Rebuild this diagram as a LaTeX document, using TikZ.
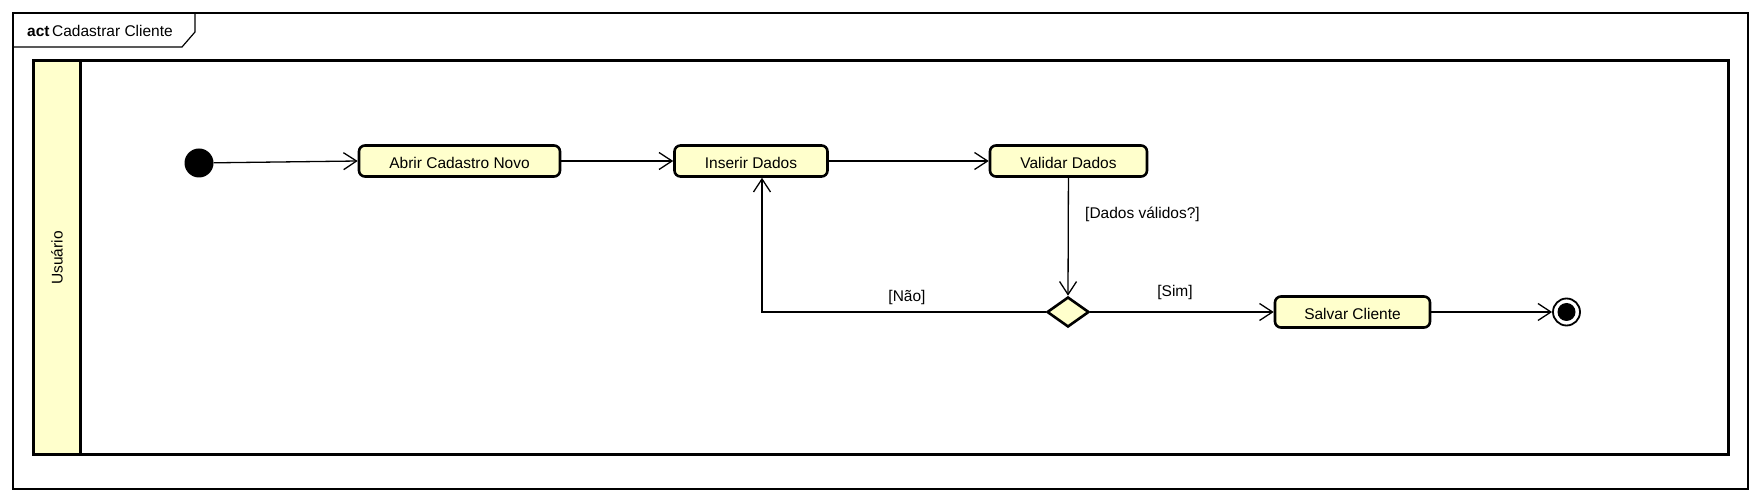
\documentclass[tikz,border=0pt]{standalone}
\usepackage{fontspec}
\setmainfont{Liberation Sans}
\usetikzlibrary{shapes.geometric,arrows.meta}
\definecolor{umlfill}{HTML}{FFFFCC}
\begin{document}
\begin{tikzpicture}[x=1pt,y=-1pt,
  every node/.style={font=\fontsize{15.5}{18}\selectfont},
  action/.style={draw, line width=2.6pt, rounded corners=6pt, fill=umlfill, minimum height=31pt, inner sep=0pt, text height=15pt, text depth=0pt},
  flow/.style={line width=1.3pt, -{Straight Barb[length=13pt,width=17pt,line width=1.3pt]}},
  lbl/.style={inner sep=0pt}]
\useasboundingbox (0,0) rectangle (1762,502);
% outer frame
\draw[line width=1.2pt] (13,13) rectangle (1748,489);
\draw[line width=1.2pt] (13,47) -- (182,47) -- (195,32) -- (195,13);
\node[anchor=base west, lbl] (title) at (27,37) {\textbf{act}\,Cadastrar Cliente};
% swimlane
\draw[line width=3pt, fill=umlfill] (33,61) rectangle (80,454);
\draw[line width=3pt] (80,61) rectangle (1728,454);
\node[rotate=90, lbl] (lane) at (57,258) {Usuário};
% nodes
\node[circle, fill=black, minimum size=29pt, inner sep=0pt] (init) at (199,163) {};
\node[action, minimum width=201pt] (abrir) at (459.5,161) {Abrir Cadastro Novo};
\node[action, minimum width=153pt] (inserir) at (751,161) {Inserir Dados};
\node[action, minimum width=157pt] (validar) at (1068.5,161) {Validar Dados};
\node[diamond, draw, line width=2.6pt, fill=umlfill, minimum width=42pt, minimum height=30pt, inner sep=0pt] (dec) at (1068,312) {};
\node[action, minimum width=155pt] (salvar) at (1352.5,312) {Salvar Cliente};
\node[circle, draw, line width=1.8pt, fill=white, minimum size=27pt, inner sep=0pt] (final) at (1566.5,312) {};
\node[circle, fill=black, minimum size=18pt, inner sep=0pt] (finalin) at (final.center) {};
\coordinate (back) at (762,312);
% connectors
\draw[flow] (init) -- (abrir.west);
\draw[flow] (abrir) -- (inserir);
\draw[flow] (inserir) -- (validar);
\draw[flow] (validar) -- (dec.north);
\draw[flow] (dec.west) -- (back) -- (back |- inserir.south);
\draw[flow] (dec.east) -- (salvar.west);
\draw[flow] (salvar) -- (final);
% labels
\node[lbl, anchor=west] (lvalid) at (1085,214) {[Dados válidos?]};
\node[lbl] (lnao) at (907,297) {[Não]};
\node[lbl] (lsim) at (1175,292) {[Sim]};
\end{tikzpicture}
\end{document}
